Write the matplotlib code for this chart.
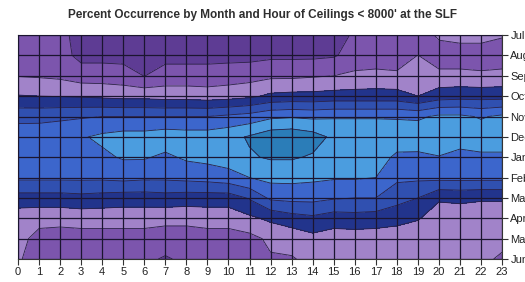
import numpy as np
import matplotlib.pyplot as plt

plt.rcParams['font.family'] = ['Liberation Sans', 'DejaVu Sans']

hours = list(range(24))
months = ['Jul', 'Aug', 'Sep', 'Oct', 'Nov', 'Dec', 'Jan', 'Feb', 'Mar', 'Apr', 'May', 'Jun']

# percent occurrence of ceilings < 8000 ft, one list per month, hours 0..23
jul = [12, 12, 11.5, 8, 7.5, 7, 7, 7, 7, 7, 7, 7, 7.5, 7.5, 8, 8.5, 10.5, 11, 11, 11.5, 16, 17, 17, 15.5]
aug = [12.5, 12.5, 12, 8.5, 8.5, 8.5, 8, 8.5, 8.5, 8.5, 8.5, 8.5, 9, 9, 9, 9.5, 12, 12, 12, 15.1, 12, 12, 12, 12]
sep = [14.8, 14.5, 14, 12.5, 12.5, 12, 9.9, 12, 12, 12, 12.5, 13, 14, 14, 14.5, 15, 16, 16.5, 16, 17, 16.5, 16.5, 16, 16.5]
oct_ = [20.3, 20, 19.8, 19.5, 19, 18.5, 18.5, 18, 18, 17.5, 18, 19, 21, 21.5, 21.5, 22, 22, 22, 22, 20, 22.5, 23, 23, 23]
nov = [28.4, 28.5, 29, 29.5, 30, 30, 30, 30, 30, 30, 31, 32, 34, 34.5, 34, 34.5, 34.5, 34.5, 34.5, 34, 36, 36, 34.5, 36]
dec = [33, 33, 33.5, 34.5, 36, 37, 37, 38, 37.5, 37.5, 38.5, 40.5, 43, 43.5, 42, 39, 39, 39, 38, 39, 38, 38, 38, 38]
jan = [32.5, 32.5, 33, 33, 34, 35.5, 35.5, 34, 35.8, 36.5, 37.5, 39.5, 40.5, 40.5, 39.5, 38.5, 38, 37.5, 34, 33.5, 34.8, 33, 34, 34]
feb = [31, 31, 31, 31, 31, 31.5, 31, 31, 31.5, 32, 33, 35, 36.5, 36.5, 36, 35.5, 35.5, 35, 31, 31, 31.5, 31.5, 31.5, 31.5]
mar = [23, 23, 23, 23.5, 23, 22.5, 22.5, 23, 22.5, 22.5, 22.5, 25.5, 31, 31.5, 31.5, 30.5, 30, 30, 27, 25, 20.5, 21, 20.5, 20.5]
apr = [17, 16.5, 16.5, 17, 17, 17, 17, 16.5, 16.5, 17, 17, 19, 21, 23, 24, 22.5, 23, 22.5, 21.5, 20.3, 18, 17.5, 17.5, 17.5]
may = [16.5, 13.5, 13, 13, 13, 13, 13, 12.5, 12.5, 13, 13, 13.5, 16, 16.5, 18.5, 17.5, 17.5, 17.5, 17.5, 17.5, 17.5, 17.5, 17.5, 17]
jun = [15.5, 13, 12.5, 12.5, 12.5, 12.5, 11, 9.5, 11, 12.5, 12.5, 13, 14.5, 14.7, 16, 16.5, 16.5, 16.5, 16.5, 16.5, 16.5, 16.5, 16.5, 14]

pct = np.array([jul, aug, sep, oct_, nov, dec, jan, feb, mar, apr, may, jun])
rows = np.arange(len(months))

levels = [0, 10, 15, 20, 25, 30, 35, 40, 50]
colors = ['#5e3c94', '#7c55ad', '#a183c9', '#22348c', '#3050b0',
          '#3c66cc', '#4b9ddf', '#2b7db8']

fig = plt.figure(figsize=(5.25, 2.82), dpi=100)
ax = fig.add_axes([0.0343, 0.0816, 0.922, 0.794])

ax.contourf(hours, rows, pct, levels=levels, colors=colors)
ax.contour(hours, rows, pct, levels=levels[1:-1], colors='#2a2045', linewidths=0.6)

ax.set_xlim(0, 23)
ax.set_ylim(11, 0)
ax.set_xticks(hours)
ax.set_yticks(rows)
ax.set_yticklabels(months)
ax.yaxis.tick_right()
ax.tick_params(axis='both', labelsize=8, length=4, width=0.8, color='#333333',
               labelcolor='#222222', pad=2)
ax.set_axisbelow(False)
ax.grid(True, color='#1b1530', linewidth=0.9)
for s in ax.spines.values():
    s.set_color('#333333')
    s.set_linewidth(0.8)

fig.text(0.5, 0.948, "Percent Occurrence by Month and Hour of Ceilings < 8000' at the SLF",
         ha='center', va='center', fontsize=8.5, fontweight='bold', color='#2e2e2e')

fig.savefig('out.png', dpi=100)
